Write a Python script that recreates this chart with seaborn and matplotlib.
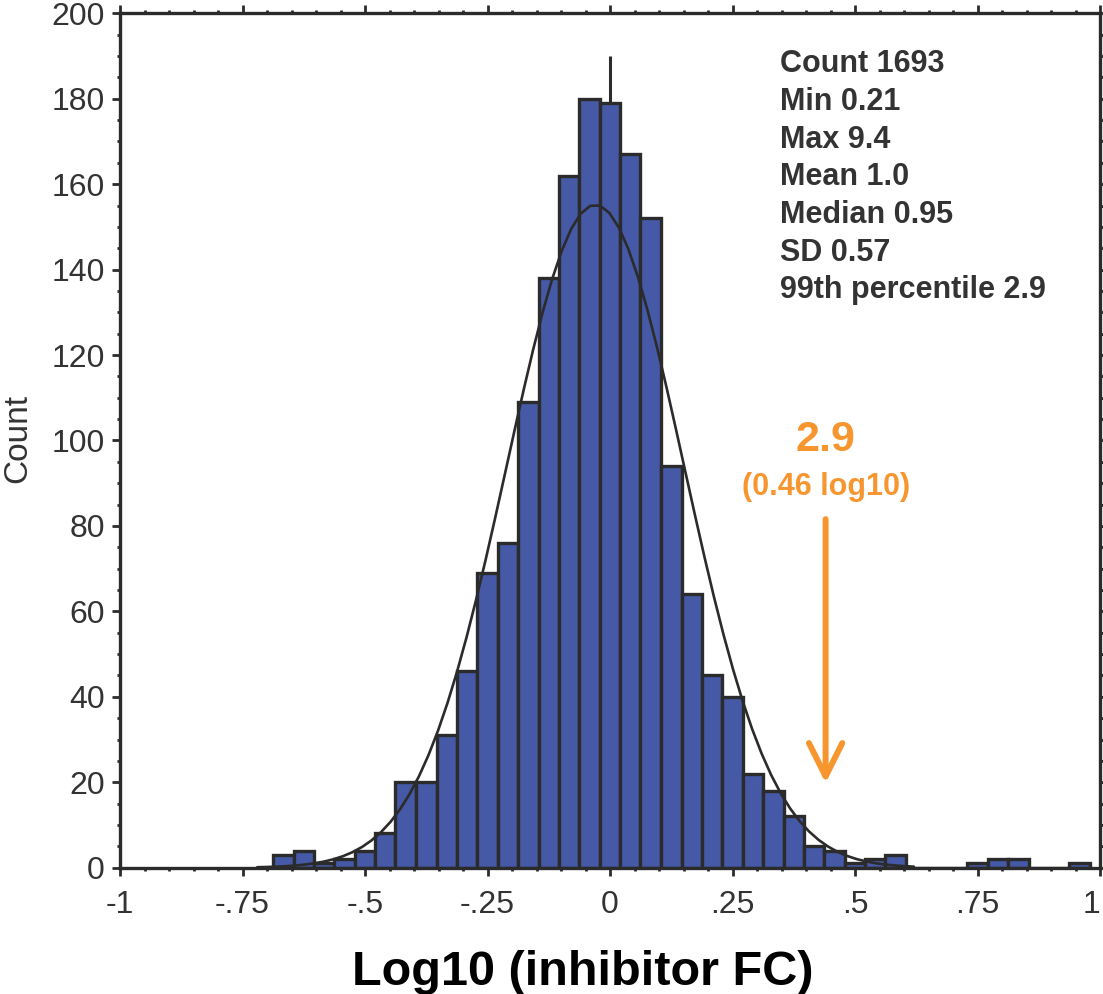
import numpy as np
import pandas as pd
import matplotlib
matplotlib.use("Agg")
import matplotlib.pyplot as plt
import seaborn as sns
from matplotlib.ticker import MultipleLocator, FixedLocator

# ---------------- data ----------------
bin_width = 0.0417
bin_centers = [-0.667, -0.625, -0.583, -0.542, -0.500, -0.458, -0.417, -0.375,
               -0.333, -0.292, -0.250, -0.208, -0.167, -0.125, -0.083, -0.042,
               0.000, 0.042, 0.083, 0.125, 0.167, 0.208, 0.250, 0.292,
               0.333, 0.375, 0.417, 0.458, 0.500, 0.542, 0.583, 0.625,
               0.667, 0.708, 0.750, 0.792, 0.833, 0.875, 0.917, 0.958]
counts = [3, 4, 1, 2, 4, 8, 20, 20, 31, 46, 69, 76, 109, 138, 162, 180,
          179, 167, 152, 94, 64, 45, 40, 22, 18, 12, 5, 4, 1, 2, 3, 0,
          0, 0, 1, 2, 2, 0, 0, 1]

stats_lines = ["Count 1693", "Min 0.21", "Max 9.4", "Mean 1.0",
               "Median 0.95", "SD 0.57", "99th percentile 2.9"]
center_line_x = 0.0
center_line_top = 190
p99_log = 0.44
p99_label = "2.9"
p99_sublabel = "(0.46 log10)"
arrow_from, arrow_to = 81.6, 19.8

x_ticks = [-1, -0.75, -0.5, -0.25, 0, 0.25, 0.5, 0.75, 1]
x_tick_labels = ["-1", "-.75", "-.5", "-.25", "0", ".25", ".5", ".75", "1"]
y_ticks = [0, 20, 40, 60, 80, 100, 120, 140, 160, 180, 200]

# ---------------- style ----------------
sns.set_style("ticks")
plt.rcParams['font.family'] = ['Liberation Sans', 'DejaVu Sans']
dark = "#2b2b2b"
bar_color = "#4559a6"
orange = "#f7952f"
text_gray = "#333333"

fig = plt.figure(figsize=(11.03, 9.94), dpi=100)
ax = fig.add_axes([0.1088, 0.1271, 0.8885, 0.8595])

df = pd.DataFrame({"log_fc": bin_centers, "n": counts})
centers = df["log_fc"].to_numpy()
edges = [float(c - bin_width / 2) for c in centers] + [float(centers[-1] + bin_width / 2)]

sns.histplot(data=df, x="log_fc", weights="n", bins=edges, stat="count",
             color=bar_color, edgecolor=dark, linewidth=2.4, alpha=1,
             ax=ax, zorder=2)

# normal fit computed from the histogram
w = df["n"].to_numpy(dtype=float)
n = w.sum()
mu = np.average(centers, weights=w)
sd = np.sqrt(np.average((centers - mu) ** 2, weights=w))
xs = np.linspace(-0.72, 0.62, 70)
ys = n * bin_width * np.exp(-0.5 * ((xs - mu) / sd) ** 2) / (sd * np.sqrt(2 * np.pi))
sns.lineplot(x=xs, y=ys, color=dark, linewidth=1.9, ax=ax, zorder=3)

ax.vlines(center_line_x, 0, center_line_top, color=dark, linewidth=2.2, zorder=1)

# stats block
for i, line in enumerate(stats_lines):
    ax.text(0.673, 0.9405 - i * 0.0441, line, transform=ax.transAxes,
            ha="left", va="center", fontsize=22, fontweight="bold", color=text_gray)

# 99th percentile annotation
ax.text(p99_log, 100, p99_label, ha="center", va="center", fontsize=31,
        fontweight="bold", color=orange)
ax.text(p99_log, 89.2, p99_sublabel, ha="center", va="center", fontsize=22,
        fontweight="bold", color=orange)
ax.annotate("", xy=(p99_log, arrow_to), xytext=(p99_log, arrow_from),
            arrowprops=dict(arrowstyle="->,head_length=1.2,head_width=0.6",
                            lw=4.3, color=orange, mutation_scale=20,
                            shrinkA=0, shrinkB=0))

# axes
ax.set_xlim(-1, 1)
ax.set_ylim(0, 200)
ax.xaxis.set_major_locator(FixedLocator(x_ticks))
ax.set_xticklabels(x_tick_labels)
ax.xaxis.set_minor_locator(MultipleLocator(0.05))
ax.yaxis.set_major_locator(FixedLocator(y_ticks))
ax.yaxis.set_minor_locator(MultipleLocator(5))
ax.tick_params(which="both", direction="out", top=True, right=True,
               color=dark, width=2)
ax.tick_params(which="major", length=6, labelsize=23, labelcolor=text_gray)
ax.tick_params(axis="x", which="major", pad=10)
ax.tick_params(axis="y", which="major", pad=5)
ax.tick_params(which="minor", length=2.5)
ax.get_xticklabels()[-1].set_ha("right")
for s in ax.spines.values():
    s.set_linewidth(2.4)
    s.set_color(dark)

ax.set_ylabel("Count", fontsize=24, color=text_gray)
ax.yaxis.set_label_coords(-0.0888, 0.502)
ax.set_xlabel("Log10 (inhibitor FC)", fontsize=35, fontweight="bold", color="black")
ax.xaxis.label.set_va("baseline")
ax.xaxis.set_label_coords(0.4724, -0.1373)

fig.savefig("out.png", dpi=100)
